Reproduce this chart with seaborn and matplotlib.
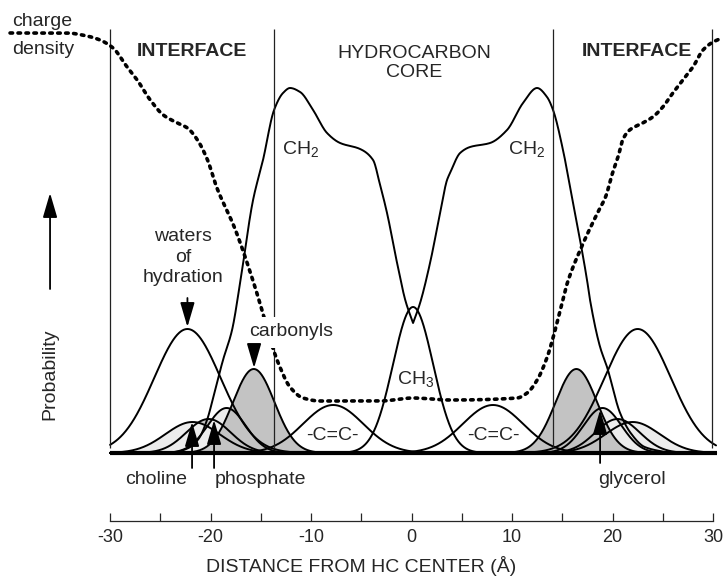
import numpy as np
import pandas as pd
import matplotlib
matplotlib.use("Agg")
import matplotlib.pyplot as plt
from matplotlib.ticker import FixedLocator
import seaborn as sns

# ---------------- data ----------------
# x in Angstrom from hydrocarbon centre, y in arbitrary probability units
region_bounds = [-30.0, -13.7, 14.1, 29.85]

group_names = ["phosphate", "choline", "glycerol", "carbonyls"]
group_left_center = [-20.2, -21.8, -18.4, -15.7]
group_right_center = [20.5, 22.0, 19.0, 16.4]
group_height = [34, 31, 45, 84]
group_width = [2.2, 2.7, 1.9, 2.06]
group_color = ["#c3c3c3", "#ececec", "#ececec", "#c3c3c3"]

water_center = [-22.3, 22.5]
water_height = 124
water_width = 3.3

cc_center = [-7.8, 8.1]
cc_height = 48
cc_width = 3.0

ch3_center = 0.15
ch3_height = 146
ch3_width = 2.0

ch2_left_x = [-25.0, -23.5, -22.2, -21.2, -20.35, -19.55, -18.76, -17.86, -17.06,
              -15.77, -14.78, -13.68, -12.79, -12.09, -11.09, -9.80, -8.41, -7.11,
              -5.12, -3.83, -3.13, -2.44, -1.44, -0.6, 0.15]
ch2_left_y = [0, 1, 5, 14, 33, 63, 93, 123, 170,
              253, 293, 343, 360, 365, 361, 343, 320, 310,
              304, 293, 268, 240, 190, 152, 130]
ch2_right_x = [0.15, 0.85, 1.84, 2.84, 3.53, 3.83, 4.83, 5.82, 7.81, 9.50, 11.09,
               12.49, 13.48, 14.08, 15.07, 15.77, 17.46, 17.76, 18.76, 19.45,
               20.75, 21.8, 23.2, 25.7]
ch2_right_y = [130, 150, 190, 240, 273, 280, 300, 306, 310, 323, 350,
               365, 356, 343, 303, 266, 173, 153, 106, 86,
               40, 20, 6, 0]

charge_x = [-39.95, -34.3, -32.3, -31.0, -29.7, -28.3, -27.3, -26.0, -24.7, -23.3,
            -22.3, -21.3, -20.3, -19.4, -17.6, -15.8, -14.8, -13.9, -13.1, -12.1,
            -10.8, -9.1, -3.1, 0.15, 3.8, 10.5, 11.5, 12.5, 13.5, 14.1, 14.8, 15.5,
            17.0, 18.5, 19.3, 20.0, 20.6, 21.0, 21.7, 23.0, 24.0, 25.0, 26.0, 27.0,
            28.0, 29.0, 30.0, 30.9]
charge_y = [420, 420, 417, 413, 405, 386, 373, 353, 338, 330,
            325, 313, 293, 266, 225, 173, 140, 108, 86, 66,
            55, 52, 52, 55, 53, 55, 60, 73, 96, 116, 143, 170,
            208, 240, 256, 280, 298, 313, 323, 330, 336, 346, 360, 373,
            386, 403, 411, 415]

x_ticks = [-30, -20, -10, 0, 10, 20, 30]
x_minor_ticks = [-25, -15, -5, 5, 15, 25]

# ---------------- helpers ----------------
def gauss(x, c, h, s):
    return h * np.exp(-(x - c) ** 2 / (2 * s ** 2))


def pchip(xp, yp, xn):
    xp = np.asarray(xp, float); yp = np.asarray(yp, float)
    hk = np.diff(xp); dk = np.diff(yp) / hk
    m = np.zeros_like(yp)
    for k in range(1, len(xp) - 1):
        if dk[k - 1] * dk[k] > 0:
            w1 = 2 * hk[k] + hk[k - 1]
            w2 = hk[k] + 2 * hk[k - 1]
            m[k] = (w1 + w2) / (w1 / dk[k - 1] + w2 / dk[k])
    m[0] = dk[0]; m[-1] = dk[-1]
    idx = np.clip(np.searchsorted(xp, xn) - 1, 0, len(xp) - 2)
    t = (xn - xp[idx]) / hk[idx]
    h00 = 2 * t**3 - 3 * t**2 + 1
    h10 = t**3 - 2 * t**2 + t
    h01 = -2 * t**3 + 3 * t**2
    h11 = t**3 - t**2
    return (h00 * yp[idx] + h10 * hk[idx] * m[idx] + h01 * yp[idx + 1]
            + h11 * hk[idx] * m[idx + 1])


# ---------------- style ----------------
sns.set_style("white")
plt.rcParams["font.family"] = ["Liberation Sans", "DejaVu Sans"]
plt.rcParams["mathtext.fontset"] = "custom"
plt.rcParams["mathtext.rm"] = "Liberation Sans"
plt.rcParams["mathtext.it"] = "Liberation Sans"
plt.rcParams["mathtext.default"] = "regular"
plt.rcParams["axes.unicode_minus"] = False

FS = 14
LW = 1.4

fig = plt.figure(figsize=(7.23, 5.78), dpi=100)
ax = fig.add_axes([0, 0, 1, 1])
ax.set_xlim(-40.95, 30.99)
ax.set_ylim(-125, 453)

xs = np.linspace(-30, 30.3, 1500)

# filled head-group distributions
for name, cl, cr, h, s, col in zip(group_names, group_left_center, group_right_center,
                                    group_height, group_width, group_color):
    for c in (cl, cr):
        y = gauss(xs, c, h, s)
        ax.fill_between(xs, 0, y, color=col, lw=0, zorder=2)
for name, cl, cr, h, s in zip(group_names, group_left_center, group_right_center,
                              group_height, group_width):
    for c in (cl, cr):
        sns.lineplot(x=xs, y=gauss(xs, c, h, s), ax=ax, color="black", lw=LW,
                     estimator=None, zorder=3)

# waters, C=C, CH3
for c in water_center:
    sns.lineplot(x=xs, y=gauss(xs, c, water_height, water_width), ax=ax,
                 color="black", lw=LW, estimator=None, zorder=4)
for c in cc_center:
    sns.lineplot(x=xs, y=gauss(xs, c, cc_height, cc_width), ax=ax,
                 color="black", lw=LW, estimator=None, zorder=4)
xc = np.linspace(-7, 7, 600)
sns.lineplot(x=xc, y=gauss(xc, ch3_center, ch3_height, ch3_width), ax=ax,
             color="black", lw=LW, estimator=None, zorder=4)

# CH2 (one curve with a cusp at the centre)
xl = np.linspace(ch2_left_x[0], ch2_left_x[-1], 600)
xr = np.linspace(ch2_right_x[0], ch2_right_x[-1], 600)
ch2 = pd.DataFrame({"x": np.r_[xl, xr],
                    "y": np.r_[pchip(ch2_left_x, ch2_left_y, xl),
                               pchip(ch2_right_x, ch2_right_y, xr)]})
sns.lineplot(data=ch2, x="x", y="y", ax=ax, color="black", lw=LW,
             estimator=None, sort=False, zorder=4)

# charge density (dotted)
xq = np.linspace(charge_x[0], charge_x[-1], 1500)
ax.plot(xq, pchip(charge_x, charge_y, xq), color="black", lw=2.6,
        ls=(0, (0.7, 1.5)), dash_capstyle="round", zorder=5)

# region boundaries and baseline
ax.vlines(region_bounds, 5, 424, color="#222222", lw=0.9, zorder=4.5)
ax.hlines(0, -30.0, 30.4, color="black", lw=3.0, zorder=6)

# ---------------- axis ----------------
for side in ("top", "left", "right"):
    ax.spines[side].set_visible(False)
ax.spines["bottom"].set_position(("data", -68))
ax.spines["bottom"].set_bounds(-30, 30)
ax.spines["bottom"].set_linewidth(0.9)
ax.xaxis.set_major_locator(FixedLocator(x_ticks))
ax.xaxis.set_minor_locator(FixedLocator(x_minor_ticks))
ax.set_xticklabels([str(t) for t in x_ticks])
ax.tick_params(axis="x", which="both", direction="in", length=6, width=0.9,
               pad=6, labelsize=13, bottom=True)
ax.set_yticks([])
ax.set_ylabel("")
ax.set_xlabel("DISTANCE FROM HC CENTER (Å)", fontsize=FS)
ax.xaxis.set_label_coords(0.5, 0.038)
ax.xaxis.label.set_va("top")

# ---------------- text ----------------
ax.text(-39.75, 431, "charge", fontsize=FS, ha="left", va="center", zorder=8)
ax.text(-39.75, 404, "density", fontsize=FS, ha="left", va="center", zorder=8)
ax.text(-21.84, 402, "INTERFACE", fontsize=FS, fontweight="bold", ha="center",
        va="center", zorder=8)
ax.text(22.44, 402, "INTERFACE", fontsize=FS, fontweight="bold", ha="center",
        va="center", zorder=8)
ax.text(0.25, 390, "HYDROCARBON\nCORE", fontsize=FS, ha="center", va="center",
        linespacing=1.15, zorder=8)
ax.text(-22.74, 196, "waters\nof\nhydration", fontsize=FS, ha="center",
        va="center", linespacing=1.25, zorder=8)
ax.text(-12.89, 299, r"CH$_2$", fontsize=FS, ha="left", va="baseline", zorder=8)
ax.text(9.6, 299, r"CH$_2$", fontsize=FS, ha="left", va="baseline", zorder=8)
ax.text(-1.44, 69, r"CH$_3$", fontsize=FS, ha="left", va="baseline", zorder=8)
ax.text(-7.91, 17, "-C=C-", fontsize=FS, ha="center", va="center", zorder=8)
ax.text(8.11, 18, "-C=C-", fontsize=FS, ha="center", va="center", zorder=8)
ax.text(-12.0, 121, "carbonyls", fontsize=FS, ha="center", va="center", zorder=8,
        bbox=dict(facecolor="white", edgecolor="none", pad=5))
ax.text(-25.42, -26, "choline", fontsize=FS, ha="center", va="center", zorder=8)
ax.text(-15.07, -26, "phosphate", fontsize=FS, ha="center", va="center", zorder=8)
ax.text(21.94, -26, "glycerol", fontsize=FS, ha="center", va="center", zorder=8)
ax.text(-35.97, 79, "Probability", fontsize=FS, rotation=90, ha="center",
        va="center", zorder=8)

# ---------------- arrows ----------------
def arrow(x, y0, y1):
    ax.annotate("", xy=(x, y1), xytext=(x, y0), xycoords="data",
                arrowprops=dict(arrowstyle="-|>,head_length=0.75,head_width=0.22",
                                mutation_scale=20, lw=1.3, color="black",
                                shrinkA=0, shrinkB=0), zorder=9)

arrow(-22.3, 155, 126)
arrow(-15.67, 105, 85)
arrow(-21.84, -15, 31)
arrow(-19.65, -15, 33)
arrow(18.76, -10, 43)
arrow(-35.97, 164, 260)

fig.savefig("out.png", dpi=100)
